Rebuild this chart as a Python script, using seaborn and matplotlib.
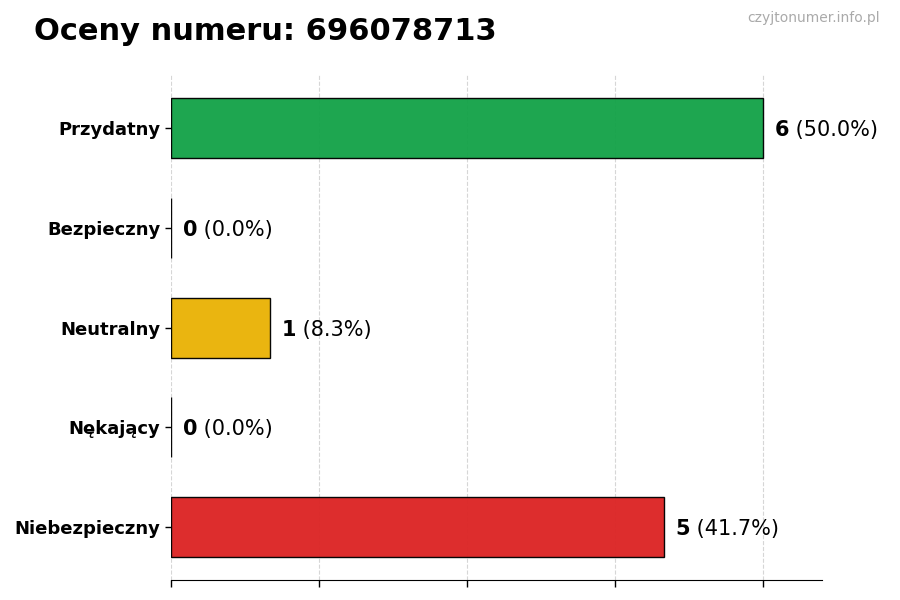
import numpy as np
import pandas as pd
import seaborn as sns
import matplotlib.pyplot as plt

categories = ['Przydatny', 'Bezpieczny', 'Neutralny', 'Nękający', 'Niebezpieczny']
counts = [6, 0, 1, 0, 5]
colors = ['#16a34a', '#3b82f6', '#eab308', '#f97316', '#dc2626']
number = '696078713'

df = pd.DataFrame({'cat': categories, 'n': counts})
total = sum(counts)

sns.set_style('white')
plt.rcParams['font.family'] = ['DejaVu Sans']
plt.rcParams['text.color'] = 'black'
plt.rcParams['ytick.color'] = 'black'

fig, ax = plt.subplots(figsize=(9, 6), dpi=100)
fig.subplots_adjust(left=0.19, right=0.913, top=0.875, bottom=0.033)

sns.barplot(data=df, y='cat', x='n', hue='cat', palette=colors, legend=False,
            orient='h', width=0.6, saturation=1, alpha=0.97,
            edgecolor='black', linewidth=1, ax=ax, zorder=2)

ax.set_xlim(0, max(counts) * 1.1)
ax.set_ylim(len(categories) - 1 + 0.53, -0.53)
ax.set_xticks(np.arange(0, 6.1, 1.5))
ax.set_xticklabels([])
ax.grid(axis='x', linestyle='--', color='#cccccc', linewidth=0.8, alpha=0.8)
ax.set_axisbelow(True)
ax.set_xlabel('')
ax.set_ylabel('')
for s in ['top', 'right', 'left']:
    ax.spines[s].set_visible(False)
ax.spines['bottom'].set_color('black')
ax.tick_params(axis='x', bottom=True, length=5, width=1, color='black')
ax.tick_params(axis='y', left=True, length=4, width=1, color='black', labelsize=13)
for lbl in ax.get_yticklabels():
    lbl.set_fontweight('bold')
    lbl.set_color('black')

off = max(counts) * 0.02
for i, v in enumerate(counts):
    t = ax.text(v + off, i, str(v), va='center_baseline', ha='left', fontsize=15,
                fontweight='bold', color='black')
    ax.annotate(f' ({v / total * 100:.1f}%)', xycoords=t, xy=(1, 0.5), va='center',
                ha='left', fontsize=15, color='black')

fig.text(0.038, 0.947, f'Oceny numeru: {number}', fontsize=22, fontweight='bold',
         va='center', color='black')
fig.text(0.978, 0.97, 'czyjtonumer.info.pl', fontsize=10, color='#aaaaaa',
         ha='right', va='center')

fig.savefig('out.png', dpi=100)
